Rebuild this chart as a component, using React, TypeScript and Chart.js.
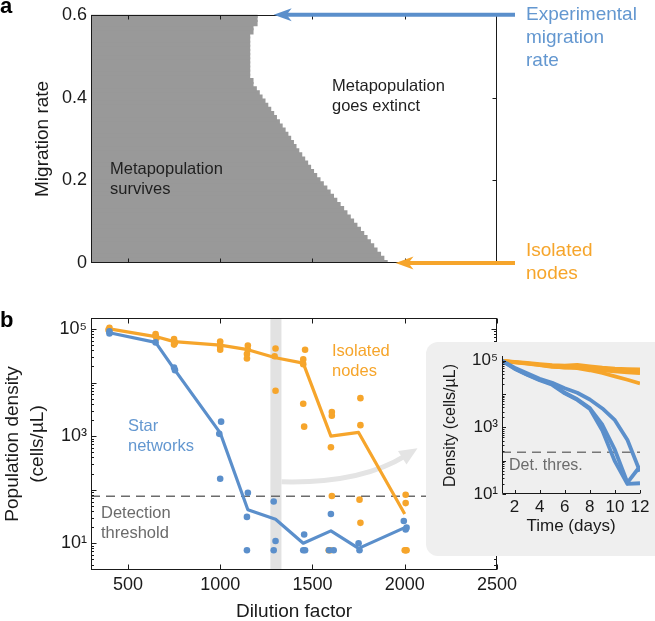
import React, { useEffect, useRef } from 'react';
import { Chart, registerables } from 'chart.js';

Chart.register(...registerables);

const FONT = '"Liberation Sans", Arial, Helvetica, sans-serif';
const ORANGE = '#F6A52B';
const BLUE = '#5B8FCB';
const BLUE_TEXT = '#6397D0';
const REGION_GRAY = '#999999';
const INK = '#1a1a1a';
const THRESH_GRAY = '#6b6b6b';

// ---------------- Panel a: survival region ----------------
const migrationRates = [
  0.0, 0.01, 0.02, 0.03, 0.04, 0.05, 0.06, 0.07, 0.08, 0.09,
  0.1, 0.11, 0.12, 0.13, 0.14, 0.15, 0.16, 0.17, 0.18, 0.19,
  0.2, 0.21, 0.22, 0.23, 0.24, 0.25, 0.26, 0.27, 0.28, 0.29,
  0.3, 0.31, 0.32, 0.33, 0.34, 0.35, 0.36, 0.37, 0.38, 0.39,
  0.4, 0.41, 0.42, 0.43, 0.44, 0.45, 0.46, 0.47, 0.48, 0.49,
  0.5, 0.51, 0.52, 0.53, 0.54, 0.55, 0.56, 0.57, 0.58, 0.59, 0.6,
];
// largest dilution factor at which the metapopulation survives, per migration rate
const survivalBoundary = [
  1905, 1887, 1869, 1850, 1832, 1814, 1796, 1778, 1760, 1741,
  1723, 1705, 1687, 1669, 1650, 1632, 1614, 1596, 1578, 1559,
  1541, 1523, 1506, 1490, 1474, 1458, 1442, 1426, 1411, 1397,
  1382, 1367, 1352, 1336, 1321, 1305, 1290, 1274, 1258, 1243,
  1227, 1212, 1196, 1178, 1178, 1160, 1160, 1160, 1160, 1160,
  1160, 1160, 1160, 1160, 1160, 1160, 1178, 1178, 1200, 1200, 1200,
];
const aXRange = [300, 2500];
const aYRange = [0, 0.6];
const aXTicks = [500, 1000, 1500, 2000];
const aYTicks = [0, 0.2, 0.4, 0.6];
const experimentalMigration = 0.6;
const isolatedMigration = 0;
const blueArrowTip = 1290;
const orangeArrowTip = 1950;

// ---------------- Panel b: population density vs dilution ----------------
const dilutions = [400, 650, 750, 1000, 1150, 1300, 1450, 1600, 1750, 2000];
const isolatedMean = [1.0e5, 7.2e4, 5.8e4, 5.0e4, 4.1e4, 2.9e4, 2.3e4, 1000, 1170, 35];
const starMean = [8.5e4, 5.6e4, 1.8e4, 1150, 42, 28, 10, 17, 8, 19.5];

const isolatedRepDilution = [
  400, 395,
  650, 650, 655,
  750, 750, 755, 750,
  1000, 1000, 1000, 1000,
  1150, 1150, 1145, 1145,
  1300, 1295, 1300,
  1460, 1450, 1450, 1450, 1455,
  1605, 1605, 1600, 1605, 1588, 1598,
  1760, 1760, 1755, 1760,
  2005, 2005, 2000, 2005, 2010,
];
const isolatedRepDensity = [
  1.05e5, 9.6e4,
  8.0e4, 7.4e4, 6.8e4,
  6.5e4, 6.0e4, 5.5e4, 5.1e4,
  5.8e4, 5.0e4, 4.6e4, 4.1e4,
  4.9e4, 4.1e4, 3.4e4, 2.8e4,
  4.3e4, 3.1e4, 7000,
  4.1e4, 2.7e4, 2.2e4, 4000, 1500,
  2800, 2400, 620, 76, 7.4, 7.4,
  5100, 1600, 65, 24,
  80, 56, 7.4, 7.4, 7.4,
];
const starRepDilution = [
  400, 400,
  650,
  750, 755,
  1005, 995, 1000,
  1150, 1145, 1145,
  1290, 1300, 1290,
  1455, 1450, 1460,
  1600, 1590, 1615,
  1750, 1755,
  1995, 2005, 2010,
];
const starRepDensity = [
  9.0e4, 8.2e4,
  5.6e4,
  1.9e4, 1.7e4,
  1860, 1100, 160,
  87, 31, 7.4,
  60, 11, 7.4,
  14.5, 7.4, 7.4,
  35, 7.4, 7.4,
  10, 7.4,
  26, 18, 19.5,
];
const detectionThreshold = 75;
const highlightBand = [1272, 1332];
const bXRange = [300, 2500];
const bYRange = [3.16, 1.6e5];
const bXTicks = [500, 1000, 1500, 2000, 2500];
const bYLabelled = [10, 1000, 100000];
// curved pointer from highlighted column to the inset (dilution, density)
const pointerPath = [[1332, 140], [1760, 128], [2005, 430]];

// ---------------- Inset: time courses ----------------
const days = [1, 2, 3, 4, 5, 6, 7, 8, 9, 10, 11, 12];
const isolatedTraces = [
  [1.0e5, 9.3e4, 8.6e4, 8.0e4, 7.4e4, 7.2e4, 7.5e4, 6.8e4, 6.2e4, 5.8e4, 5.6e4, 5.5e4],
  [1.0e5, 9.0e4, 8.2e4, 7.4e4, 6.6e4, 6.4e4, 6.6e4, 5.9e4, 5.2e4, 4.8e4, 4.5e4, 4.3e4],
  [1.0e5, 9.1e4, 8.4e4, 7.6e4, 6.8e4, 6.2e4, 6.0e4, 5.2e4, 4.3e4, 3.4e4, 2.7e4, 2.1e4],
];
const starTraces = [
  [1.0e5, 6.2e4, 4.2e4, 2.9e4, 2.2e4, 1.5e4, 1.1e4, 6900, 3700, 1650, 420, 47],
  [1.0e5, 5.9e4, 3.9e4, 2.7e4, 2.0e4, 1.1e4, 7000, 3800, 1200, 210, 22, 68],
  [1.0e5, 5.8e4, 3.8e4, 2.6e4, 1.9e4, 1.05e4, 6700, 3600, 800, 95, 20, 21],
];
const insetThreshold = 180;
const insetXRange = [1, 12];
const insetYRange = [10, 1.3e5];
const insetXTicks = [2, 4, 6, 8, 10, 12];
const insetYLabelled = [10, 1000, 100000];

const SUP: any = { 10: '10\u00B9', 1000: '10\u00B3', 100000: '10\u2075' };

function logTickValues(min: number, max: number) {
  const out: { v: number; major: boolean }[] = [];
  for (let e = -1; e < 7; e++) {
    for (let k = 1; k < 10; k++) {
      const v = k * Math.pow(10, e);
      if (v >= min * 0.999 && v <= max * 1.001) out.push({ v, major: k === 1 });
    }
  }
  return out;
}

function seg(ctx: any, x1: number, y1: number, x2: number, y2: number) {
  ctx.beginPath();
  ctx.moveTo(x1, y1);
  ctx.lineTo(x2, y2);
  ctx.stroke();
}

function text(ctx: any, s: string, x: number, y: number, color: string, size: number, weight = 'normal') {
  ctx.fillStyle = color;
  ctx.font = `${weight} ${size}px ${FONT}`;
  ctx.textAlign = 'left';
  ctx.textBaseline = 'middle';
  ctx.fillText(s, x, y);
}

function drawArrow(ctx: any, fromX: number, tipX: number, y: number, color: string) {
  const headLen = 18;
  const half = 6.5;
  ctx.save();
  ctx.strokeStyle = color;
  ctx.fillStyle = color;
  ctx.lineWidth = 4;
  seg(ctx, fromX, y, tipX + headLen * 0.6, y);
  ctx.beginPath();
  ctx.moveTo(tipX, y);
  ctx.lineTo(tipX + headLen, y - half);
  ctx.lineTo(tipX + headLen * 0.72, y);
  ctx.lineTo(tipX + headLen, y + half);
  ctx.closePath();
  ctx.fill();
  ctx.restore();
}

const panelAPlugin = {
  id: 'panelADecor',
  afterDraw(chart: any) {
    const { ctx, chartArea: ca, scales } = chart;
    const xs = scales.x;
    const ys = scales.y;
    ctx.save();
    ctx.strokeStyle = INK;
    ctx.lineWidth = 1;
    const L = Math.round(ca.left) + 0.5;
    const R = Math.round(ca.right) - 0.5;
    const T = Math.round(ca.top) + 0.5;
    const B = Math.round(ca.bottom) - 0.5;
    ctx.strokeRect(L, T, R - L, B - T);
    for (const v of aXTicks) {
      const px = Math.round(xs.getPixelForValue(v)) + 0.5;
      seg(ctx, px, B, px, B - 4);
      seg(ctx, px, T, px, T + 4);
    }
    for (const v of aYTicks.slice(1, -1)) {
      const py = Math.round(ys.getPixelForValue(v)) + 0.5;
      seg(ctx, R, py, R - 4, py);
    }
    drawArrow(ctx, ca.right + 18, xs.getPixelForValue(blueArrowTip), ys.getPixelForValue(experimentalMigration), BLUE);
    drawArrow(ctx, ca.right + 18, xs.getPixelForValue(orangeArrowTip), ys.getPixelForValue(isolatedMigration), ORANGE);

    text(ctx, 'Metapopulation', 110, 169, '#1f1f1f', 16.5);
    text(ctx, 'survives', 110, 189, '#1f1f1f', 16.5);
    text(ctx, 'Metapopulation', 332, 86, '#1f1f1f', 16.5);
    text(ctx, 'goes extinct', 332, 106, '#1f1f1f', 16.5);

    text(ctx, 'Experimental', 526, 15, BLUE_TEXT, 19);
    text(ctx, 'migration', 526, 38, BLUE_TEXT, 19);
    text(ctx, 'rate', 526, 61, BLUE_TEXT, 19);
    text(ctx, 'Isolated', 526, 251, ORANGE, 19);
    text(ctx, 'nodes', 526, 274, ORANGE, 19);

    ctx.fillStyle = '#000';
    ctx.font = `bold 22px ${FONT}`;
    ctx.textBaseline = 'alphabetic';
    ctx.fillText('a', 0, 13);
    ctx.restore();
  },
};

const panelBPlugin = {
  id: 'panelBDecor',
  beforeDatasetsDraw(chart: any) {
    const { ctx, chartArea: ca, scales } = chart;
    const xs = scales.x;
    const ys = scales.y;
    ctx.save();
    const x0 = xs.getPixelForValue(highlightBand[0]);
    const x1 = xs.getPixelForValue(highlightBand[1]);
    ctx.fillStyle = '#e2e2e2';
    ctx.fillRect(x0, ca.top, x1 - x0, ca.bottom - ca.top);
    const p = pointerPath.map(([d, v]) => [xs.getPixelForValue(d), ys.getPixelForValue(v)]);
    ctx.strokeStyle = '#e4e4e4';
    ctx.fillStyle = '#e4e4e4';
    ctx.lineWidth = 5;
    ctx.beginPath();
    ctx.moveTo(p[0][0], p[0][1]);
    ctx.quadraticCurveTo(p[1][0], p[1][1], p[2][0], p[2][1]);
    ctx.stroke();
    const dx = p[2][0] - p[1][0];
    const dy = p[2][1] - p[1][1];
    const len = Math.hypot(dx, dy);
    const ux = dx / len;
    const uy = dy / len;
    const tipX = p[2][0] + ux * 14;
    const tipY = p[2][1] + uy * 14;
    ctx.beginPath();
    ctx.moveTo(tipX, tipY);
    ctx.lineTo(p[2][0] - ux * 4 - uy * 8, p[2][1] - uy * 4 + ux * 8);
    ctx.lineTo(p[2][0] - ux * 4 + uy * 8, p[2][1] - uy * 4 - ux * 8);
    ctx.closePath();
    ctx.fill();
    ctx.restore();
  },
  afterDraw(chart: any) {
    const { ctx, chartArea: ca, scales } = chart;
    const xs = scales.x;
    const ys = scales.y;
    ctx.save();
    ctx.strokeStyle = INK;
    ctx.lineWidth = 1;
    const L = Math.round(ca.left) + 0.5;
    const R = Math.round(ca.right) - 0.5;
    const T = Math.round(ca.top) + 0.5;
    const B = Math.round(ca.bottom) - 0.5;
    ctx.strokeRect(L, T, R - L, B - T);
    for (const v of bXTicks) {
      const px = Math.round(xs.getPixelForValue(v)) + 0.5;
      seg(ctx, px, B, px, B - 5);
      seg(ctx, px, T, px, T + 5);
    }
    for (const t of logTickValues(bYRange[0], bYRange[1])) {
      const py = Math.round(ys.getPixelForValue(t.v)) + 0.5;
      const len = t.major ? 5 : 2.5;
      seg(ctx, L, py, L + len, py);
      seg(ctx, R, py, R - len, py);
    }
    text(ctx, 'Star', 128, 136, BLUE_TEXT, 16.5);
    text(ctx, 'networks', 128, 156, BLUE_TEXT, 16.5);
    text(ctx, 'Detection', 101, 223, THRESH_GRAY, 16.5);
    text(ctx, 'threshold', 101, 243, THRESH_GRAY, 16.5);
    text(ctx, 'Isolated', 332, 61, ORANGE, 16.5);
    text(ctx, 'nodes', 332, 81, ORANGE, 16.5);
    ctx.fillStyle = '#000';
    ctx.font = `bold 22px ${FONT}`;
    ctx.textBaseline = 'alphabetic';
    ctx.textAlign = 'left';
    ctx.fillText('b', 0, 37);
    ctx.restore();
  },
};

const insetPlugin = {
  id: 'insetDecor',
  afterDraw(chart: any) {
    const { ctx, chartArea: ca, scales } = chart;
    const xs = scales.x;
    const ys = scales.y;
    ctx.save();
    ctx.strokeStyle = INK;
    ctx.lineWidth = 1;
    const L = Math.round(ca.left) + 0.5;
    const B = Math.round(ca.bottom) - 0.5;
    seg(ctx, L, ca.top - 1, L, B);
    seg(ctx, L, B, ca.right, B);
    for (const v of insetXTicks) {
      const px = Math.round(xs.getPixelForValue(v)) + 0.5;
      seg(ctx, px, B, px, B - 3.5);
    }
    for (const t of logTickValues(insetYRange[0], insetYRange[1])) {
      const py = Math.round(ys.getPixelForValue(t.v)) + 0.5;
      seg(ctx, L, py, L + (t.major ? 3.5 : 2), py);
    }
    text(ctx, 'Det. thres.', 83, 124, THRESH_GRAY, 16);
    ctx.restore();
  },
};

function makeA(canvas: HTMLCanvasElement) {
  return new Chart(canvas, {
    type: 'bar',
    data: {
      datasets: [
        {
          data: migrationRates.map((m, i) => ({ y: m, x: [aXRange[0], survivalBoundary[i]] })) as any,
          backgroundColor: REGION_GRAY,
          borderWidth: 0,
          barThickness: 5.2,
          inflateAmount: 0.5,
        } as any,
      ],
    },
    options: {
      indexAxis: 'y',
      responsive: false,
      animation: false,
      layout: { padding: { left: 0, right: 158, top: 13, bottom: 27 } },
      plugins: { legend: { display: false }, tooltip: { enabled: false } },
      scales: {
        x: { type: 'linear', display: false, min: aXRange[0], max: aXRange[1], offset: false },
        y: {
          type: 'linear',
          min: aYRange[0],
          max: aYRange[1],
          offset: false,
          afterBuildTicks: (s: any) => {
            s.ticks = aYTicks.map((v) => ({ value: v }));
          },
          afterFit: (s: any) => {
            s.width = 91;
          },
          grid: { display: false, drawTicks: false },
          border: { display: false },
          ticks: {
            padding: 4,
            color: INK,
            font: { family: FONT, size: 18 },
            autoSkip: false,
            callback: (v: any) => (Number(v) === 0 ? '0' : Number(v).toFixed(1)),
          },
          title: {
            display: true,
            text: 'Migration rate',
            color: INK,
            font: { family: FONT, size: 19 },
            padding: { top: 31, bottom: 0 },
          },
        },
      } as any,
    },
    plugins: [panelAPlugin],
  } as any);
}

function makeB(canvas: HTMLCanvasElement) {
  return new Chart(canvas, {
    type: 'line',
    data: {
      datasets: [
        {
          data: [
            { x: bXRange[0], y: detectionThreshold },
            { x: bXRange[1], y: detectionThreshold },
          ],
          borderColor: THRESH_GRAY,
          borderWidth: 1.5,
          borderDash: [9, 6],
          pointRadius: 0,
          order: 10,
        },
        {
          data: isolatedRepDilution.map((d, i) => ({ x: d, y: isolatedRepDensity[i] })),
          showLine: false,
          pointRadius: 3.3,
          pointBackgroundColor: ORANGE,
          pointBorderWidth: 0,
          order: 6,
        },
        {
          data: dilutions.map((d, i) => ({ x: d, y: isolatedMean[i] })),
          borderColor: ORANGE,
          borderWidth: 3.2,
          pointRadius: 0,
          borderJoinStyle: 'round',
          order: 5,
        },
        {
          data: starRepDilution.map((d, i) => ({ x: d, y: starRepDensity[i] })),
          showLine: false,
          pointRadius: 3.3,
          pointBackgroundColor: BLUE,
          pointBorderWidth: 0,
          order: 4,
        },
        {
          data: dilutions.map((d, i) => ({ x: d, y: starMean[i] })),
          borderColor: BLUE,
          borderWidth: 3.2,
          pointRadius: 0,
          borderJoinStyle: 'round',
          order: 3,
        },
      ],
    },
    options: {
      responsive: false,
      animation: false,
      layout: { padding: { left: 0, right: 158, top: 28, bottom: 0 } },
      plugins: { legend: { display: false }, tooltip: { enabled: false } },
      scales: {
        x: {
          type: 'linear',
          min: bXRange[0],
          max: bXRange[1],
          afterBuildTicks: (s: any) => {
            s.ticks = bXTicks.map((v) => ({ value: v }));
          },
          afterFit: (s: any) => {
            s.height = 51;
          },
          grid: { display: false, drawTicks: false },
          border: { display: false },
          ticks: {
            padding: 4,
            color: INK,
            font: { family: FONT, size: 18 },
            maxRotation: 0,
            autoSkip: false,
            callback: (v: any) => String(v),
          },
          title: {
            display: true,
            text: 'Dilution factor',
            color: INK,
            font: { family: FONT, size: 19 },
            padding: { top: 0, bottom: -2 },
          },
        },
        y: {
          type: 'logarithmic',
          min: bYRange[0],
          max: bYRange[1],
          afterBuildTicks: (s: any) => {
            s.ticks = bYLabelled.map((v) => ({ value: v }));
          },
          afterFit: (s: any) => {
            s.width = 91;
          },
          grid: { display: false, drawTicks: false },
          border: { display: false },
          ticks: {
            padding: 4,
            color: INK,
            font: { family: FONT, size: 18 },
            autoSkip: false,
            callback: (v: any) => SUP[Number(v)] || '',
          },
          title: {
            display: true,
            text: ['Population density', '(cells/\u00B5L)'],
            color: INK,
            font: { family: FONT, size: 19, lineHeight: 1.32 },
            padding: { top: 0, bottom: 0 },
          },
        },
      } as any,
    },
    plugins: [panelBPlugin],
  } as any);
}

function makeC(canvas: HTMLCanvasElement) {
  const traceSets: any[] = [];
  isolatedTraces.forEach((tr) => {
    traceSets.push({
      data: days.map((d, i) => ({ x: d, y: tr[i] })),
      borderColor: ORANGE,
      borderWidth: 3.8,
      pointRadius: 0,
      borderJoinStyle: 'round',
      order: 3,
    });
  });
  starTraces.forEach((tr) => {
    traceSets.push({
      data: days.map((d, i) => ({ x: d, y: tr[i] })),
      borderColor: BLUE,
      borderWidth: 3.8,
      pointRadius: 0,
      borderJoinStyle: 'round',
      order: 2,
    });
  });
  return new Chart(canvas, {
    type: 'line',
    data: {
      datasets: [
        {
          data: [
            { x: insetXRange[0], y: insetThreshold },
            { x: insetXRange[1], y: insetThreshold },
          ],
          borderColor: '#777777',
          borderWidth: 1.5,
          borderDash: [9, 6],
          pointRadius: 0,
          order: 10,
        },
        ...traceSets,
      ],
    },
    options: {
      responsive: false,
      animation: false,
      layout: { padding: { left: 0, right: 15, top: 15, bottom: 0 } },
      plugins: { legend: { display: false }, tooltip: { enabled: false } },
      scales: {
        x: {
          type: 'linear',
          min: insetXRange[0],
          max: insetXRange[1],
          afterBuildTicks: (s: any) => {
            s.ticks = insetXTicks.map((v) => ({ value: v }));
          },
          afterFit: (s: any) => {
            s.height = 62;
          },
          grid: { display: false, drawTicks: false },
          border: { display: false },
          ticks: {
            padding: 3,
            color: INK,
            font: { family: FONT, size: 17 },
            maxRotation: 0,
            autoSkip: false,
            callback: (v: any) => String(v),
          },
          title: {
            display: true,
            text: 'Time (days)',
            color: INK,
            font: { family: FONT, size: 17 },
            padding: { top: 0, bottom: 19 },
          },
        },
        y: {
          type: 'logarithmic',
          min: insetYRange[0],
          max: insetYRange[1],
          afterBuildTicks: (s: any) => {
            s.ticks = insetYLabelled.map((v) => ({ value: v }));
          },
          afterFit: (s: any) => {
            s.width = 76;
          },
          grid: { display: false, drawTicks: false },
          border: { display: false },
          ticks: {
            padding: 4,
            color: INK,
            font: { family: FONT, size: 17 },
            autoSkip: false,
            callback: (v: any) => SUP[Number(v)] || '',
          },
          title: {
            display: true,
            text: 'Density (cells/\u00B5L)',
            color: INK,
            font: { family: FONT, size: 16 },
            padding: { top: 15, bottom: 0 },
          },
        },
      } as any,
    },
    plugins: [insetPlugin],
  } as any);
}

export default function App() {
  const aRef = useRef<HTMLCanvasElement>(null);
  const bRef = useRef<HTMLCanvasElement>(null);
  const cRef = useRef<HTMLCanvasElement>(null);

  useEffect(() => {
    const charts = [makeA(aRef.current!), makeB(bRef.current!), makeC(cRef.current!)];
    return () => charts.forEach((c) => c.destroy());
  }, []);

  return (
    <div
      style={{
        position: 'absolute',
        left: 0,
        top: 0,
        width: 655,
        height: 621,
        background: '#ffffff',
        overflow: 'hidden',
      }}
    >
      <canvas ref={aRef} width={655} height={290} style={{ position: 'absolute', left: 0, top: 0 }} />
      <canvas ref={bRef} width={655} height={331} style={{ position: 'absolute', left: 0, top: 290 }} />
      <div
        style={{
          position: 'absolute',
          left: 426,
          top: 342,
          width: 245,
          height: 214,
          background: '#efefef',
          borderRadius: 12,
        }}
      >
        <canvas ref={cRef} width={229} height={214} style={{ position: 'absolute', left: 0, top: 0 }} />
      </div>
    </div>
  );
}
